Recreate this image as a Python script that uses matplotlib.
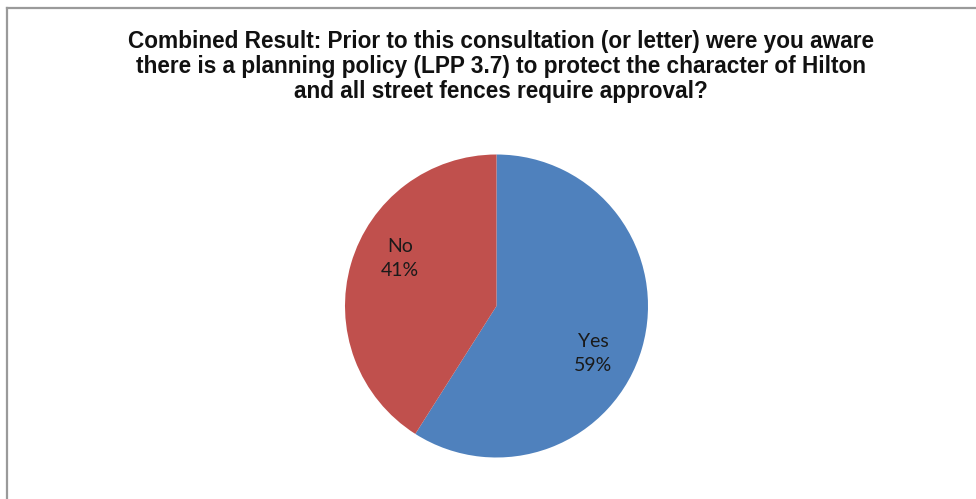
import matplotlib
matplotlib.use('Agg')
import matplotlib.pyplot as plt
from matplotlib.lines import Line2D
import numpy as np

# ========= chart data ====================================
title_lines = [
    'Combined Result: Prior to this consultation (or letter) were you aware',
    'there is a planning policy (LPP 3.7) to protect the character of Hilton',
    'and all street fences require approval?',
]
answers = ['Yes', 'No']
shares = [59, 41]
slice_colors = ['#4F81BD', '#C0504D']
# =========================================================

W, H = 976, 499
DPI = 100


def main():
    fig = plt.figure(figsize=(W / DPI, H / DPI), dpi=DPI, facecolor='white')

    # grey frame, only top and left edges fall inside the picture
    frame_col = '#9a9a9a'
    fig.add_artist(Line2D([7 / W, 1.0], [1 - 8 / H, 1 - 8 / H], color=frame_col,
                          lw=1.6, transform=fig.transFigure))
    fig.add_artist(Line2D([7 / W, 7 / W], [0.0, 1 - 8 / H], color=frame_col,
                          lw=1.6, transform=fig.transFigure))

    # title, one line at a time (baselines in pixels from the top)
    baselines = [48, 73, 98]
    for line, yb in zip(title_lines, baselines):
        fig.text(501 / W, 1 - yb / H, line, ha='center', va='baseline',
                 fontsize=16.3, fontweight='bold', family='Liberation Sans',
                 color='#111111')

    # pie area
    cx, cy, r = 496.5, 306, 151.5
    ax = fig.add_axes([(cx - r) / W, (H - cy - r) / H, 2 * r / W, 2 * r / H])
    wedges, _ = ax.pie(shares, colors=slice_colors, startangle=90,
                       counterclock=False, radius=1.0,
                       wedgeprops=dict(linewidth=0))
    ax.set_xlim(-1, 1)
    ax.set_ylim(-1, 1)
    ax.set_aspect('equal')
    ax.axis('off')

    # data labels, nudged a little clockwise from each slice's middle
    for w, name, val in zip(wedges, answers, shares):
        mid = np.deg2rad((w.theta1 + w.theta2) / 2 - 10)
        x, y = 0.71 * np.cos(mid), 0.71 * np.sin(mid)
        ax.text(x, y, f'{name}\n{val}%', ha='center', va='center',
                fontsize=14, family='Lato', color='#1a1a1a', linespacing=1.45)

    fig.savefig('out.png', dpi=DPI, facecolor='white')


if __name__ == "__main__":
    main()
